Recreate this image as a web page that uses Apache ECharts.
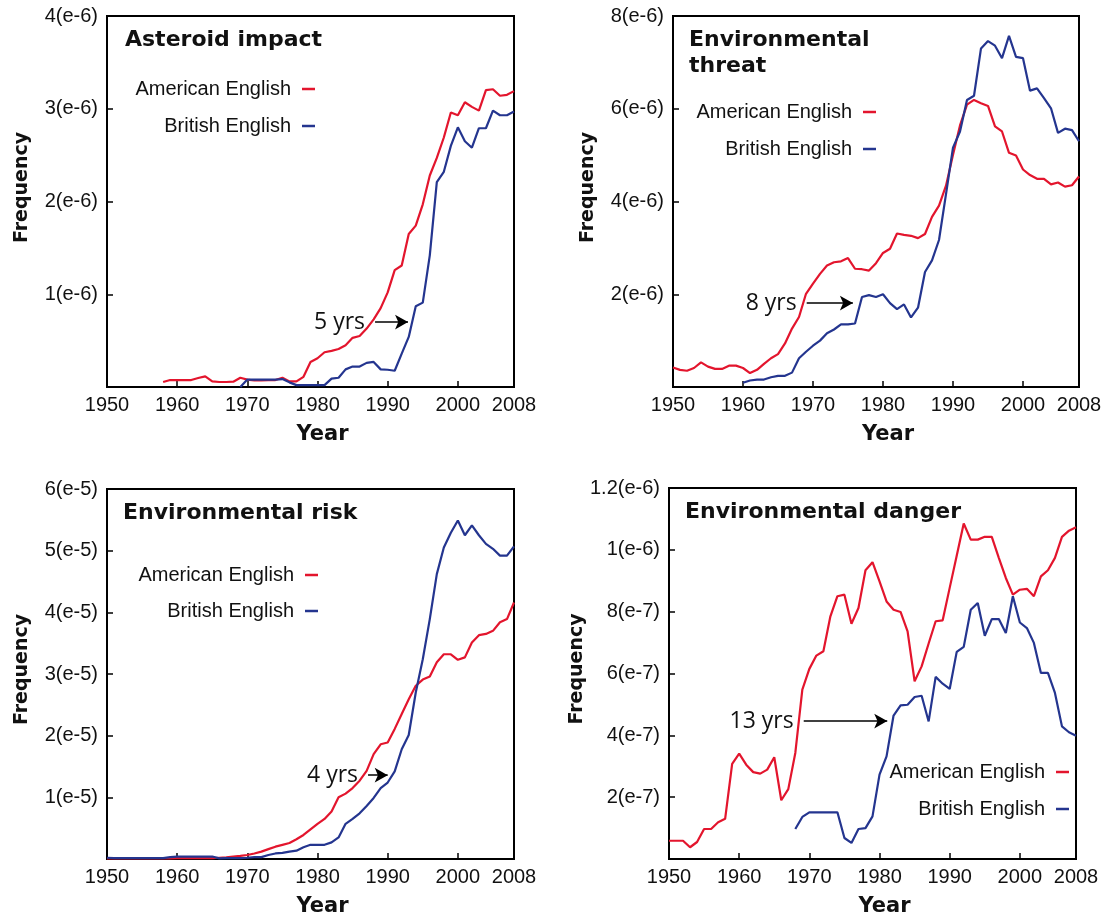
<!DOCTYPE html>
<html>
<head>
<meta charset="utf-8">
<script src="https://cdn.jsdelivr.net/npm/echarts@6/dist/echarts.min.js"></script>
<style>
  html, body { margin: 0; padding: 0; background: #fff; }
  #chart { width: 1110px; height: 918px; }
</style>
</head>
<body>
<div id="chart"></div>
<script>
// values; each series starts at its first year and runs to 2008
// Asteroid impact, units of 1e-6
const asteroidUSStart = 1958;
const asteroidUS = [0.054, 0.075, 0.075, 0.075, 0.075, 0.097, 0.114, 0.06, 0.054, 0.054,
  0.057, 0.10, 0.08, 0.07, 0.07, 0.075, 0.075, 0.10, 0.06, 0.06,
  0.11, 0.27, 0.31, 0.375, 0.39, 0.41, 0.45, 0.53, 0.55, 0.63,
  0.73, 0.85, 1.02, 1.26, 1.31, 1.65, 1.74, 1.97, 2.28, 2.47,
  2.69, 2.96, 2.93, 3.07, 3.02, 2.98, 3.20, 3.21, 3.14, 3.15, 3.19];
const asteroidUKStart = 1969;
const asteroidUK = [0.0, 0.08, 0.08, 0.08, 0.08, 0.08, 0.085, 0.05, 0.02, 0.02,
  0.02, 0.02, 0.02, 0.09, 0.10, 0.19, 0.22, 0.22, 0.26, 0.27,
  0.19, 0.186, 0.175, 0.36, 0.54, 0.87, 0.91, 1.42, 2.21, 2.32,
  2.60, 2.80, 2.65, 2.58, 2.79, 2.79, 2.98, 2.93, 2.93, 2.97];

// Environmental threat, units of 1e-6
const threatUSStart = 1950;
const threatUS = [0.42, 0.37, 0.35, 0.41, 0.53, 0.44, 0.39, 0.39, 0.46, 0.46,
  0.41, 0.30, 0.37, 0.50, 0.62, 0.71, 0.94, 1.26, 1.51, 2.01,
  2.23, 2.44, 2.62, 2.69, 2.71, 2.78, 2.55, 2.54, 2.51, 2.67,
  2.89, 2.98, 3.31, 3.28, 3.26, 3.21, 3.30, 3.67, 3.91, 4.34,
  5.01, 5.64, 6.09, 6.19, 6.12, 6.06, 5.62, 5.51, 5.05, 4.99,
  4.69, 4.57, 4.49, 4.49, 4.37, 4.41, 4.32, 4.35, 4.54];
const threatUKStart = 1960;
const threatUK = [0.09, 0.14, 0.16, 0.16, 0.21, 0.24, 0.24, 0.31, 0.62, 0.76,
  0.89, 1.00, 1.16, 1.24, 1.35, 1.35, 1.37, 1.94, 1.98, 1.94,
  2.00, 1.81, 1.68, 1.78, 1.50, 1.71, 2.48, 2.73, 3.17, 4.16,
  5.16, 5.51, 6.19, 6.28, 7.30, 7.46, 7.36, 7.09, 7.57, 7.12,
  7.09, 6.39, 6.44, 6.23, 6.01, 5.48, 5.57, 5.54, 5.30];

// Environmental risk, units of 1e-5
const riskUSStart = 1950;
const riskUS = [0.01, 0.01, 0.01, 0.01, 0.01, 0.01, 0.01, 0.01, 0.01, 0.01,
  0.015, 0.015, 0.015, 0.015, 0.015, 0.015, 0.02, 0.025, 0.04, 0.05,
  0.065, 0.09, 0.12, 0.16, 0.20, 0.23, 0.26, 0.32, 0.39, 0.48,
  0.57, 0.65, 0.77, 1.00, 1.06, 1.15, 1.27, 1.43, 1.70, 1.86,
  1.89, 2.11, 2.35, 2.59, 2.81, 2.91, 2.96, 3.19, 3.32, 3.32,
  3.23, 3.27, 3.51, 3.63, 3.65, 3.70, 3.84, 3.89, 4.16];
const riskUKStart = 1950;
const riskUK = [0.02, 0.015, 0.015, 0.015, 0.015, 0.015, 0.015, 0.015, 0.015, 0.03,
  0.04, 0.04, 0.04, 0.04, 0.04, 0.04, 0.01, 0.015, 0.015, 0.015,
  0.02, 0.03, 0.03, 0.065, 0.09, 0.10, 0.12, 0.135, 0.19, 0.23,
  0.23, 0.23, 0.27, 0.35, 0.57, 0.65, 0.74, 0.86, 0.99, 1.15,
  1.24, 1.42, 1.78, 2.01, 2.70, 3.24, 3.89, 4.62, 5.05, 5.29,
  5.49, 5.25, 5.41, 5.25, 5.11, 5.03, 4.92, 4.92, 5.07];

// Environmental danger, units of 1e-7
const dangerUSStart = 1950;
const dangerUS = [0.59, 0.59, 0.59, 0.38, 0.55, 0.97, 0.97, 1.19, 1.30, 3.08,
  3.41, 3.05, 2.81, 2.76, 2.89, 3.29, 1.90, 2.26, 3.43, 5.48,
  6.15, 6.58, 6.72, 7.85, 8.50, 8.55, 7.61, 8.12, 9.34, 9.60,
  8.98, 8.33, 8.06, 7.99, 7.36, 5.75, 6.23, 6.97, 7.69, 7.72,
  8.77, 9.81, 10.85, 10.33, 10.33, 10.42, 10.42, 9.74, 9.09, 8.55,
  8.71, 8.74, 8.50, 9.14, 9.34, 9.74, 10.42, 10.62, 10.73];
const dangerUKStart = 1968;
const dangerUK = [0.97, 1.36, 1.51, 1.51, 1.51, 1.51, 1.51, 0.68, 0.52, 0.97,
  1.00, 1.38, 2.73, 3.32, 4.64, 4.97, 4.99, 5.24, 5.28, 4.45,
  5.89, 5.67, 5.50, 6.70, 6.86, 8.06, 8.28, 7.22, 7.76, 7.76,
  7.31, 8.50, 7.65, 7.47, 6.99, 6.02, 6.02, 5.37, 4.29, 4.10, 3.99];

const titles = ['Asteroid impact', 'Environmental\nthreat', 'Environmental risk', 'Environmental danger'];
const lagLabels = ['5 yrs', '8 yrs', '4 yrs', '13 yrs'];
const yMax = [4, 8, 6, 12];
const yStep = [1, 2, 1, 2];

const RED = '#e3152d';
const BLUE = '#24358f';
const TXT = '#111';

const pts = (start, vals) => vals.map((v, i) => [start + i, v]);

const fmtE6 = v => v === 0 ? '' : v + '(e-6)';
const fmtE5 = v => v === 0 ? '' : v + '(e-5)';
const fmtE7 = v => v === 0 ? '' : (v < 10 ? v + '(e-7)' : (v / 10) + '(e-6)');
const formatters = [fmtE6, fmtE6, fmtE5, fmtE7];

const grids = [
  { left: 107, top: 16, width: 407, height: 371 },
  { left: 673, top: 16, width: 406, height: 371 },
  { left: 107, top: 489, width: 407, height: 371 },
  { left: 669, top: 488, width: 407, height: 371 }
];

const seriesData = [
  [pts(asteroidUSStart, asteroidUS), pts(asteroidUKStart, asteroidUK)],
  [pts(threatUSStart, threatUS), pts(threatUKStart, threatUK)],
  [pts(riskUSStart, riskUS), pts(riskUKStart, riskUK)],
  [pts(dangerUSStart, dangerUS), pts(dangerUKStart, dangerUK)]
];

// arrow annotation: from, to (data coords)
const arrows = [
  [[1988.2, 0.70], [1992.9, 0.70]],
  [[1969.1, 1.81], [1975.7, 1.81]],
  [[1987.2, 1.36], [1990.0, 1.36]],
  [[1969.2, 4.46], [1981.1, 4.46]]
];

// legend anchor: right edge of dash, centre y of each row
const legendPos = [
  { right: 315, us: 90, uk: 127 },
  { right: 876, us: 113, uk: 150 },
  { right: 318, us: 576, uk: 612 },
  { right: 1069, us: 773, uk: 810 }
];
const titlePos = [[125, 27], [689, 27], [123, 500], [685, 499]];
const freqShift = [28, 28, 9, 9];

const chart = echarts.init(document.getElementById('chart'));

const option = {
  animation: false,
  backgroundColor: '#fff',
  title: titles.map((t, i) => ({
    text: t, left: titlePos[i][0], top: titlePos[i][1], padding: 0,
    textStyle: { fontFamily: 'DejaVu Sans', fontWeight: 'bold', fontSize: 22, lineHeight: 26, color: TXT }
  })),
  legend: [],
  grid: grids.map(g => Object.assign({ show: true, borderColor: '#000', borderWidth: 2, containLabel: false }, g)),
  xAxis: grids.map((g, i) => ({
    type: 'value', gridIndex: i, min: 1950, max: 2008, interval: 10,
    name: 'Year', nameLocation: 'middle', nameGap: 37,
    nameTextStyle: { fontFamily: 'DejaVu Sans', fontWeight: 'bold', fontSize: 21, color: TXT, padding: [0, 0, 0, 24] },
    axisLine: { show: false },
    axisTick: { inside: true, length: 6, lineStyle: { color: '#000', width: 1.5 } },
    axisLabel: { fontFamily: 'Liberation Sans', fontSize: 20, color: TXT, margin: 8,
      showMinLabel: true, showMaxLabel: true, formatter: v => String(v) },
    splitLine: { show: false }
  })),
  yAxis: grids.map((g, i) => ({
    type: 'value', gridIndex: i, min: 0, max: yMax[i], interval: yStep[i],
    name: 'Frequency', nameLocation: 'middle', nameGap: 75,
    nameTextStyle: { fontFamily: 'DejaVu Sans', fontWeight: 'bold', fontSize: 19, color: TXT, padding: [0, 0, 0, freqShift[i]] },
    axisLine: { show: false },
    axisTick: { inside: true, length: 6, lineStyle: { color: '#000', width: 1.5 } },
    axisLabel: { fontFamily: 'Liberation Sans', fontSize: 20, color: TXT, margin: 9, formatter: formatters[i] },
    splitLine: { show: false }
  })),
  series: []
};

seriesData.forEach((pair, i) => {
  option.series.push({
    name: 'American English', type: 'line', xAxisIndex: i, yAxisIndex: i,
    data: pair[0], showSymbol: false, symbol: 'none',
    color: RED, lineStyle: { color: RED, width: 2.2 }
  });
  option.series.push({
    name: 'British English', type: 'line', xAxisIndex: i, yAxisIndex: i,
    data: pair[1], showSymbol: false, symbol: 'none',
    color: BLUE, lineStyle: { color: BLUE, width: 2.2 },
    markLine: {
      silent: true, symbol: ['none', 'arrow'], symbolSize: [11, 13],
      lineStyle: { color: '#000', width: 1.5, type: 'solid' },
      label: { show: true, position: 'start', distance: 10, formatter: lagLabels[i],
        fontFamily: 'Open Sans', fontSize: 23, color: TXT },
      data: [[{ coord: arrows[i][0] }, { coord: arrows[i][1] }]]
    }
  });
  const lp = legendPos[i];
  ['American English', 'British English'].forEach((nm, k) => {
    option.legend.push({
      data: [nm], selectedMode: false, orient: 'horizontal', align: 'right',
      right: 1110 - lp.right, top: (k === 0 ? lp.us : lp.uk) - 11, padding: 0,
      icon: 'rect', itemWidth: 13, itemHeight: 2.5,
      textStyle: { fontFamily: 'Liberation Sans', fontSize: 20, color: TXT, padding: [0, 6, 0, 0] }
    });
  });
});

chart.setOption(option);
</script>
</body>
</html>
